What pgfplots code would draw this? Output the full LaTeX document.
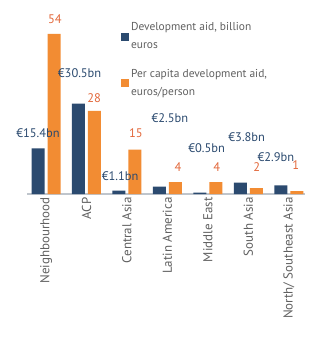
\documentclass[border=0pt]{standalone}
\usepackage{fontspec}
\setmainfont{PT Sans}
\usepackage{pgfplots}
\pgfplotsset{compat=1.18}
\definecolor{navy}{HTML}{2B4A6F}
\definecolor{orng}{HTML}{F28C33}
\definecolor{lblorng}{HTML}{E2673A}
\definecolor{txtgray}{HTML}{606060}
\definecolor{axgray}{HTML}{BFC5CC}
\begin{document}
\begin{tikzpicture}[x=1bp,y=1bp]
\path[use as bounding box] (0,0) rectangle (314,342);
\begin{axis}[
  at={(27bp,148bp)}, anchor=south west,
  width=278bp, height=178bp, scale only axis,
  xmin=-0.47, xmax=6.4, ymin=0, ymax=60,
  axis y line=none, axis x line*=bottom,
  x axis line style={draw=axgray, line width=1.2pt},
  xtick={0,...,6},
  xticklabels={Neighbourhood, ACP, Central Asia, Latin America, Middle East, South Asia, North/ Southeast Asia},
  x tick label style={rotate=90, anchor=east, font=\fontsize{13}{15}\selectfont, text=txtgray},
  major tick length=0pt,
  ytick=\empty,
  ybar, bar width=13bp,
  clip=false,
  legend style={at={(rel axis cs:0.327,0.985)}, anchor=north west, draw=none, fill=none,
    font=\fontsize{11.5}{18}\selectfont, text=txtgray, row sep=15bp,
    cells={anchor=west, align=left}},
  legend image code/.code={\fill[#1] (0bp,-4bp) rectangle (8bp,4bp);},
]
\addplot[fill=navy, draw=none, bar shift=-8bp] coordinates {(0,15.4) (1,30.5) (2,1.1) (3,2.5) (4,0.5) (5,3.8) (6,2.9)};
\addlegendentry{Development aid, billion\\euros}
\addplot[fill=orng, draw=none, bar shift=8bp] coordinates {(0,54) (1,28) (2,15) (3,4) (4,4) (5,2) (6,1)};
\addlegendentry{Per capita development aid,\\euros/person}
\begin{scope}[every node/.style={font=\fontsize{12.5}{14}\selectfont}]
\node[text=navy] at (axis cs:-0.2,20.6) {€15.4bn};
\node[text=navy] at (axis cs:0.83,40.9) {€30.5bn};
\node[text=navy] at (axis cs:1.83,6.1) {€1.1bn};
\node[text=navy] at (axis cs:3.06,25.7) {€2.5bn};
\node[text=navy] at (axis cs:3.97,15.5) {€0.5bn};
\node[text=navy] at (axis cs:4.96,19.3) {€3.8bn};
\node[text=navy] at (axis cs:5.68,12.5) {€2.9bn};
\node[text=lblorng] at (axis cs:0.22,59) {54};
\node[text=lblorng] at (axis cs:1.19,32.4) {28};
\node[text=lblorng] at (axis cs:2.22,20.6) {15};
\node[text=lblorng] at (axis cs:3.26,9.1) {4};
\node[text=lblorng] at (axis cs:4.22,9.1) {4};
\node[text=lblorng] at (axis cs:5.21,9.1) {2};
\node[text=lblorng] at (axis cs:6.17,9.6) {1};
\end{scope}
\end{axis}
\end{tikzpicture}
\end{document}
